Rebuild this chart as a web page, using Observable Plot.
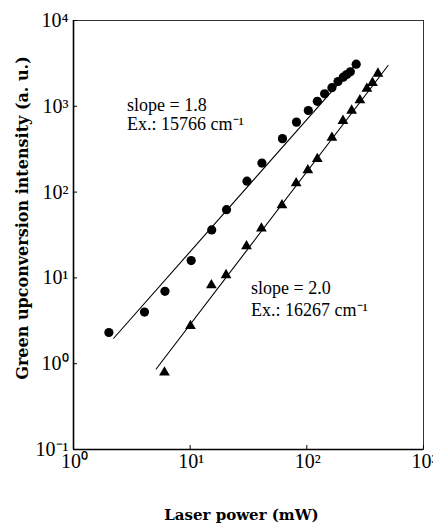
<!DOCTYPE html>
<html>
<head>
<meta charset="utf-8">
<script src="https://cdn.jsdelivr.net/npm/d3@7"></script>
<script src="https://cdn.jsdelivr.net/npm/@observablehq/plot@0.6"></script>
<style>
  html, body { margin: 0; padding: 0; background: #fff; }
  #chart { width: 433px; height: 526px; }
</style>
</head>
<body>
<div id="chart"></div>
<script>
// Series 1 (circles): Ex. 15766 cm-1
const circX = [2.01, 4.06, 6.08, 10.2, 15.3, 20.5, 30.7, 41.2, 61.8, 81.5, 103, 123, 142, 164, 185, 205, 220, 236, 265];
const circY = [2.31, 4.0, 6.98, 15.9, 36.2, 62.4, 134, 218, 420, 654, 893, 1144, 1399, 1648, 1945, 2183, 2348, 2523, 3095];
// Series 2 (triangles): Ex. 16267 cm-1
const triX = [6.02, 10.06, 15.2, 20.3, 30.4, 40.8, 61.2, 81, 102, 123, 164, 204, 242, 285, 327, 365, 407];
const triY = [0.79, 2.75, 8.22, 10.8, 23.4, 37.7, 70.4, 127, 180, 244, 431, 678, 893, 1178, 1603, 1880, 2410];
// Fitted lines (endpoints)
const fitCX = [2.21, 270];
const fitCY = [1.98, 3230];
const fitTX = [5.11, 497];
const fitTY = [0.867, 2989];
// Ticks
const xTicks = [1, 10, 100, 1000];
const yTicks = [0.1, 1, 10, 100, 1000, 10000];
// Annotations
const annC = [{x: 2.88, y: 1020, t: "slope = 1.8"}, {x: 2.88, y: 614, t: "Ex.: 15766 cm\u207B\u00B9"}];
const annT = [{x: 33.3, y: 7.52, t: "slope = 2.0"}, {x: 33.3, y: 4.17, t: "Ex.: 16267 cm\u207B\u00B9"}];
const xTitle = "Laser power (mW)";
const yTitle = "Green upconversion intensity (a. u.)";

const supMap = {"-": "\u207B", "0": "\u2070", "1": "\u00B9", "2": "\u00B2", "3": "\u00B3", "4": "\u2074"};
const pow10 = v => "10" + String(Math.round(Math.log10(v))).split("").map(c => supMap[c]).join("");

const circ = circX.map((x, i) => ({x, y: circY[i]}));
const tri = triX.map((x, i) => ({x, y: triY[i]}));
const lineC = fitCX.map((x, i) => ({x, y: fitCY[i]}));
const lineT = fitTX.map((x, i) => ({x, y: fitTY[i]}));

const FONT = "'Liberation Serif', 'Times New Roman', serif";
const TITLEFONT = "'DejaVu Serif', serif";

const chart = Plot.plot({
  width: 433,
  height: 526,
  marginLeft: 73,
  marginRight: 10,
  marginTop: 20,
  marginBottom: 77,
  style: {fontFamily: FONT, background: "#fff", color: "#000"},
  x: {type: "log", domain: [1, 1000]},
  y: {type: "log", domain: [0.1, 10000]},
  marks: [
    Plot.frame({stroke: "#333", strokeWidth: 1}),
    Plot.ruleX([1], {stroke: "#000", strokeWidth: 1.6}),
    Plot.ruleY([0.1], {stroke: "#000", strokeWidth: 1.6}),
    // inward ticks
    Plot.axisX({ticks: xTicks, tickSize: 4, dy: -4, tickFormat: () => "", label: null}),
    Plot.axisY({ticks: yTicks, tickSize: 4, dx: 4, tickFormat: () => "", label: null}),
    // tick labels
    Plot.axisX({ticks: xTicks, tickSize: 0, tickPadding: 4, dx: 1, tickFormat: pow10, fontSize: 20, label: null}),
    Plot.axisY({ticks: yTicks, tickSize: 0, tickPadding: 5, tickFormat: pow10, fontSize: 20, label: null}),
    // fitted lines
    Plot.line(lineC, {x: "x", y: "y", stroke: "#000", strokeWidth: 1.1}),
    Plot.line(lineT, {x: "x", y: "y", stroke: "#000", strokeWidth: 1.1}),
    // data
    Plot.dot(circ, {x: "x", y: "y", r: 4.6, fill: "#000", symbol: "circle"}),
    Plot.dot(tri, {x: "x", y: "y", r: 4, fill: "#000", symbol: "triangle"}),
    // annotations
    Plot.text(annC, {x: "x", y: "y", text: "t", textAnchor: "start", lineAnchor: "middle", fontSize: 18, fill: "#000"}),
    Plot.text(annT, {x: "x", y: "y", text: "t", textAnchor: "start", lineAnchor: "middle", fontSize: 18, fill: "#000"}),
    // axis titles
    Plot.text([xTitle], {frameAnchor: "bottom", textAnchor: "middle", dy: 70, dx: -7, text: d => d, fontSize: 15, fontWeight: "bold", fontFamily: TITLEFONT, fill: "#000"}),
    Plot.text([yTitle], {frameAnchor: "left", textAnchor: "middle", rotate: -90, dx: -51, dy: -17, text: d => d, fontSize: 16, fontWeight: "bold", fontFamily: TITLEFONT, fill: "#000"})
  ]
});
document.getElementById("chart").appendChild(chart);
</script>
</body>
</html>
